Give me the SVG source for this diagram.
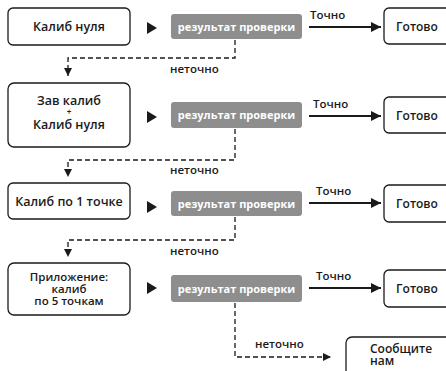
<svg xmlns="http://www.w3.org/2000/svg" width="446" height="371" viewBox="0 0 446 371">
<style>
text{font-family:"Open Sans","Noto Sans","Liberation Sans",sans-serif;font-weight:600;fill:#1a1a1a}
.box{fill:#fff;stroke:#1a1a1a;stroke-width:1.3}
.gray{fill:#8e8e8e}
.gt{fill:#fff;font-size:11px;font-weight:700}
.t13{font-size:12.5px}
.t12{font-size:12px}
.t11{font-size:11.5px}
.lab{font-size:11.5px}
.dash{fill:none;stroke:#1a1a1a;stroke-width:1.3;stroke-dasharray:5 3}
.solid{fill:none;stroke:#1a1a1a;stroke-width:2}
.head{fill:#1a1a1a}
</style>
<defs>
<marker id="ah" viewBox="0 0 10 10" refX="10" refY="5" markerWidth="10" markerHeight="10" markerUnits="userSpaceOnUse" orient="auto"><path d="M0,0 L10,5 L0,10 z" class="head"/></marker>
<marker id="ahs" viewBox="0 0 10 10" refX="10" refY="5" markerWidth="8" markerHeight="8" markerUnits="userSpaceOnUse" orient="auto"><path d="M0,0 L10,5 L0,10 z" class="head"/></marker>
</defs>

<g id="n1"><rect class="box" x="8" y="8" width="122" height="37" rx="5"/><text class="t13" x="69" y="31" text-anchor="middle">Калиб нуля</text></g>
<g id="n2"><rect class="box" x="8" y="83" width="122" height="64" rx="6"/><text class="t13" x="69" y="105" text-anchor="middle">Зав калиб</text><text x="69" y="115" text-anchor="middle" style="font-size:8px">+</text><text class="t13" x="69" y="129" text-anchor="middle">Калиб нуля</text></g>
<g id="n3"><rect class="box" x="8" y="183" width="122" height="36" rx="5"/><text class="t13" x="69" y="206" text-anchor="middle">Калиб по 1 точке</text></g>
<g id="n4"><rect class="box" x="8" y="263" width="122" height="52" rx="6"/><text class="t11" x="69" y="281" text-anchor="middle">Приложение:</text><text class="t11" x="69" y="293" text-anchor="middle">калиб</text><text class="t11" x="69" y="305" text-anchor="middle">по 5 точкам</text></g>

<g id="r1"><rect class="gray" x="171" y="14" width="131" height="25" rx="3"/><text class="gt" x="236.5" y="30.5" text-anchor="middle">результат проверки</text></g>
<g id="r2"><rect class="gray" x="171" y="102" width="131" height="26" rx="3"/><text class="gt" x="236.5" y="119" text-anchor="middle">результат проверки</text></g>
<g id="r3"><rect class="gray" x="171" y="191" width="131" height="25" rx="3"/><text class="gt" x="236.5" y="207.5" text-anchor="middle">результат проверки</text></g>
<g id="r4"><rect class="gray" x="171" y="275" width="131" height="27" rx="3"/><text class="gt" x="236.5" y="292.5" text-anchor="middle">результат проверки</text></g>

<g id="d1"><rect class="box" x="384" y="8" width="70" height="36" rx="5"/><text class="t12" x="417" y="31" text-anchor="middle">Готово</text></g>
<g id="d2"><rect class="box" x="384" y="97" width="70" height="36" rx="5"/><text class="t12" x="417" y="120" text-anchor="middle">Готово</text></g>
<g id="d3"><rect class="box" x="384" y="185" width="70" height="37" rx="5"/><text class="t12" x="417" y="208" text-anchor="middle">Готово</text></g>
<g id="d4"><rect class="box" x="384" y="270" width="70" height="37" rx="5"/><text class="t12" x="417" y="293" text-anchor="middle">Готово</text></g>
<g id="tell"><rect class="box" x="346" y="337" width="108" height="50" rx="6"/><text class="t12" x="370" y="353">Сообщите</text><text class="t12" x="370" y="365">нам</text></g>

<g id="connectors">
<path class="head" d="M147,22 L157,28 L147,34 z"/>
<path class="head" d="M147,111 L157,117 L147,123 z"/>
<path class="head" d="M147,201 L157,207 L147,213 z"/>
<path class="head" d="M147,282 L157,288 L147,294 z"/>

<path class="solid" d="M309,27 L381,27" marker-end="url(#ah)"/>
<path class="solid" d="M309,116 L381,116" marker-end="url(#ah)"/>
<path class="solid" d="M309,203 L381,203" marker-end="url(#ah)"/>
<path class="solid" d="M309,288 L381,288" marker-end="url(#ah)"/>
<text class="lab" x="310" y="19">Точно</text>
<text class="lab" x="313" y="108">Точно</text>
<text class="lab" x="316" y="195">Точно</text>
<text class="lab" x="316" y="280">Точно</text>

<path class="dash" d="M235,40 L235,58 L68,58 L68,76" marker-end="url(#ahs)"/>
<path class="dash" d="M235,129 L235,160 L68,160 L68,177" marker-end="url(#ahs)"/>
<path class="dash" d="M235,217 L235,240 L68,240 L68,257" marker-end="url(#ahs)"/>
<path class="dash" d="M235,303 L235,357 L331,357" marker-end="url(#ahs)"/>
<text class="lab" x="170" y="73">неточно</text>
<text class="lab" x="170" y="174">неточно</text>
<text class="lab" x="170" y="255">неточно</text>
<text class="lab" x="255" y="348">неточно</text>
</g>
</svg>
